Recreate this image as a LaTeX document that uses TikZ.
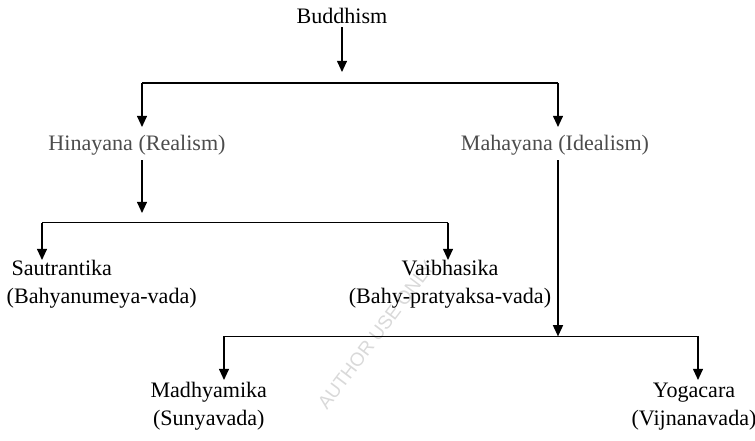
\documentclass[tikz,border=0pt]{standalone}
\usepackage{fontspec}
\setmainfont{Liberation Serif}
\newfontfamily\markfont{Liberation Sans}
\usepackage{xcolor}
\usetikzlibrary{arrows.meta}

\begin{document}
\begin{tikzpicture}[>={Triangle[length=0.28cm,width=0.25cm]}, line width=1pt,
  every node/.style={font=\fontsize{15.7}{19.3}\selectfont, inner sep=2pt},
  school/.style={anchor=base, align=center},
  vehicle/.style={anchor=base, text=black!70}]
\useasboundingbox (0,0) rectangle (18.875,-11.025);
%\draw[help lines] (0,0) grid (19,-11);
\path (9.4,-8.375) node(wm) [rotate=53, text=black!15, font=\markfont\fontsize{13.5}{13.5}\selectfont] {AUTHOR USE ONLY};

\path (8.55,-0.583) node(bud) [anchor=base] {Buddhism}
(3.425,-3.77) node(hin) [vehicle] {Hinayana (Realism)}
(13.875,-3.77) node(mah) [vehicle] {Mahayana (Idealism)}
(0.15,-7.575) node(sau) [anchor=base west, align=left, inner sep=0pt] {\hspace{0.12cm}Sautrantika\\(Bahyanumeya-vada)}
(11.25,-7.575) node(vai) [school] {Vaibhasika\\(Bahy-pratyaksa-vada)}
(5.22,-10.625) node(mad) [school] {Madhyamika\\(Sunyavada)}
(17.35,-10.625) node(yog) [school] {Yogacara\\(Vijnanavada)};

% fork points
\coordinate (b0) at (8.55,-1.8);
\coordinate (b1) at (3.55,-2.07);
\coordinate (b2) at (13.95,-2.07);
\coordinate (h0) at (3.55,-4.0);
\coordinate (h1) at (3.55,-5.325);
\coordinate (h2) at (1.05,-5.567);
\coordinate (h3) at (11.2,-5.567);
\coordinate (m0) at (13.95,-4.0);
\coordinate (m1) at (13.95,-8.41);
\coordinate (m2) at (5.6,-8.41);
\coordinate (m3) at (17.45,-8.41);

\draw[->] (bud) -- (b0);
\draw (b1) -- (b2);
\draw[->] (b1) -- ++(0,-1.105);
\draw[->] (b2) -- ++(0,-1.105);

\draw[->] (h0) -- (h1);
\draw (h2) -- (h3);
\draw[->] (h2) -- ++(0,-0.933);
\draw[->] (h3) -- ++(0,-0.933);

\draw[->] (m0) -- (m1);
\draw (m2) -- (m3);
\draw[->] (m2) -- ++(0,-1.09);
\draw[->] (m3) -- ++(0,-1.09);
\end{tikzpicture}
\end{document}
